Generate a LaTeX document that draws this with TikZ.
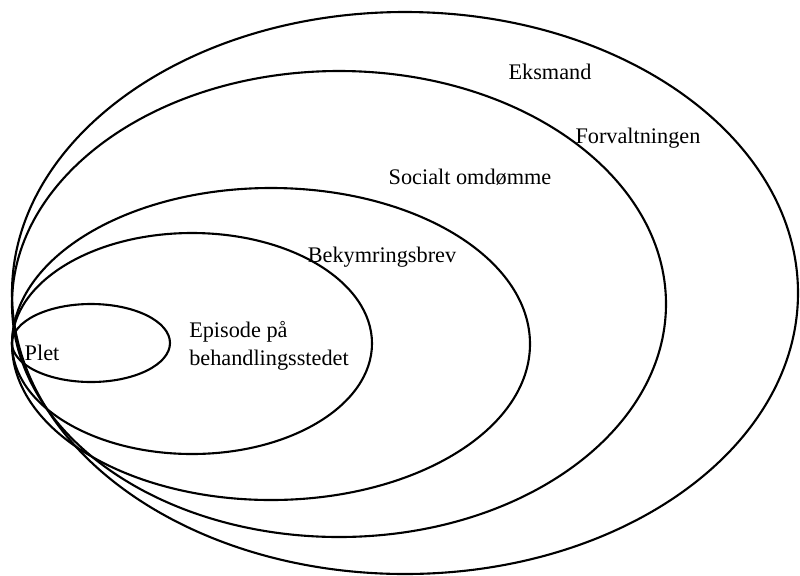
\documentclass[tikz,border=0pt]{standalone}
\usepackage{fontspec}
\setmainfont{Liberation Serif}
\usetikzlibrary{positioning}

\begin{document}
\begin{tikzpicture}[x=0.03cm, y=-0.03cm, line width=1.8pt, font=\fontsize{19}{24}\selectfont]
\useasboundingbox (0,0) rectangle (800,575);
\coordinate (pletC) at (91,343);
\coordinate (episodeC) at (192,343.5);
\coordinate (brevC) at (271,344);
\coordinate (socialC) at (339,304);
\coordinate (eksC) at (405,293);

% nested circles of concern
\draw (eksC) ellipse [x radius=393, y radius=281];
\draw (socialC) ellipse [x radius=327, y radius=233];
\draw (brevC) ellipse [x radius=259, y radius=156];
\draw (episodeC) ellipse [x radius=180, y radius=110.5];
\draw (pletC) ellipse [x radius=79, y radius=39];

\node (eks) at (550,72) {Eksmand};
\node (forv) at (638,138) {Forvaltningen};
\node (social) at (470,177) {Socialt omdømme};
\node (brev) at (382,257) {Bekymringsbrev};
\node[align=left] (episode) at (269,346) {Episode på\\behandlingsstedet};
\node (plet) at (42,353) {Plet};

\end{tikzpicture}
\end{document}
